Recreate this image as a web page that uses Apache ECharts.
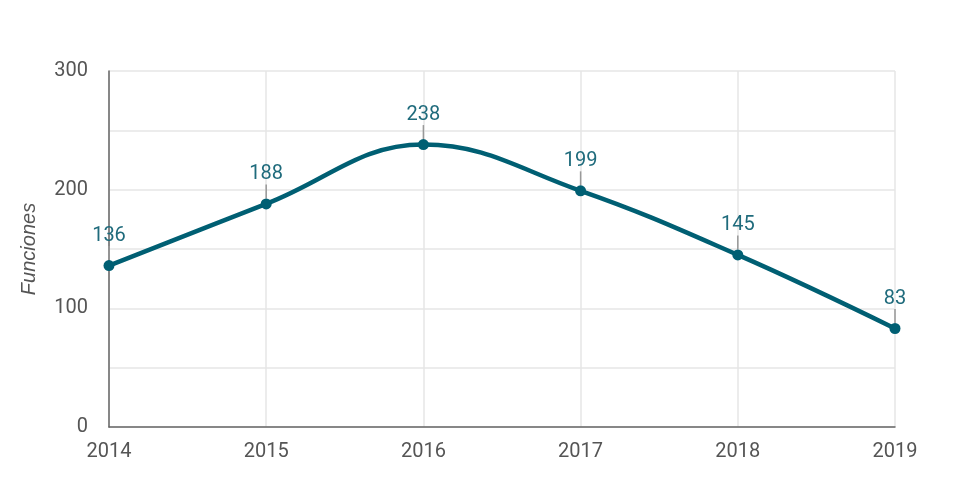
<!DOCTYPE html>
<html><head><meta charset="utf-8">
<script src="https://cdn.jsdelivr.net/npm/echarts@6/dist/echarts.min.js"></script>
<style>html,body{margin:0;padding:0;background:#fff}#c{width:965px;height:493px}</style>
</head><body><div id="c"></div>
<script>
const years = ['2014','2015','2016','2017','2018','2019'];
const funciones = [136, 188, 238, 199, 145, 83];
const yTicks = [0, 100, 200, 300];

const chart = echarts.init(document.getElementById('c'));
chart.setOption({
  animation: false,
  grid: {left: 109, right: 70, top: 71, bottom: 66},
  xAxis: {
    type: 'category', data: years, boundaryGap: false,
    axisLine: {lineStyle: {color: '#666', width: 1.5}},
    axisTick: {show: false},
    axisLabel: {color: '#555', fontFamily: 'Roboto', fontSize: 20, margin: 15},
    splitLine: {show: true, lineStyle: {color: '#e6e6e6', width: 1.5}}
  },
  yAxis: {
    type: 'value', min: yTicks[0], max: yTicks[yTicks.length-1], interval: 100,
    name: 'Funciones', nameLocation: 'middle', nameGap: 70, nameRotate: 90,
    nameTextStyle: {color: '#555', fontFamily: 'Liberation Sans', fontStyle: 'italic', fontSize: 20},
    axisLine: {show: true, lineStyle: {color: '#666', width: 1.5}},
    axisTick: {show: false},
    axisLabel: {color: '#555', fontFamily: 'Roboto', fontSize: 20, margin: 21},
    splitLine: {lineStyle: {color: '#e6e6e6', width: 1.5}},
    minorTick: {show: false, splitNumber: 2},
    minorSplitLine: {show: true, lineStyle: {color: '#e6e6e6', width: 1.5}}
  },
  series: [{
    type: 'line', data: funciones, smooth: 0.4,
    symbol: 'circle', symbolSize: 11,
    lineStyle: {color: '#005f73', width: 4.5},
    itemStyle: {color: '#005f73'},
    label: {show: true, position: 'top', distance: 5, color: '#1f6b7c', fontFamily: 'Roboto', fontSize: 20},
    labelLayout: {dy: -9},
    labelLine: {show: true, lineStyle: {color: '#999', width: 1.5}}
  }]
});
</script></body></html>
